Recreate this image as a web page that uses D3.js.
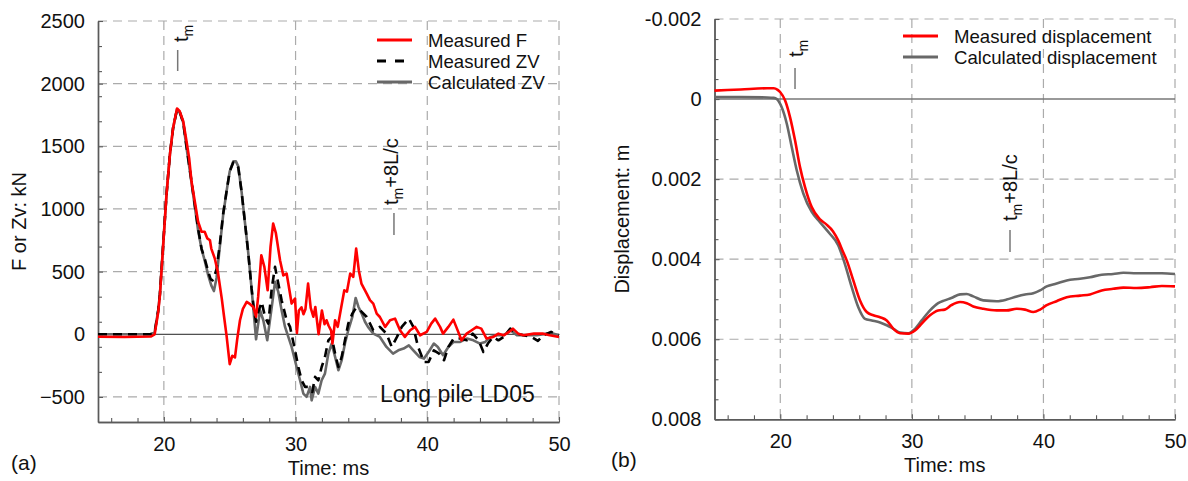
<!DOCTYPE html>
<html>
<head>
<meta charset="utf-8">
<script src="https://cdn.jsdelivr.net/npm/d3@7"></script>
<style>
  html, body { margin: 0; padding: 0; background: #fff; }
  svg { display: block; font-family: "Liberation Sans", Arial, sans-serif; }
</style>
</head>
<body>
<svg id="chart" width="1188" height="481"></svg>
<script>
// ---------------- DATA ----------------
// Panel (a): force / impedance*velocity, kN vs time, ms
const measFTime = [15, 17, 19.0, 19.3, 19.57, 19.7, 19.95, 20.2, 20.46, 20.7, 21.0, 21.2, 21.47, 21.72, 21.92, 22.1, 22.35, 22.6, 22.86, 23.1, 23.3, 23.5, 23.6, 23.87, 24.1, 24.4, 24.56, 24.76, 25.0, 25.2, 25.4, 25.57, 25.78, 26.0, 26.29, 26.55, 26.79, 27.0, 27.16, 27.4, 27.63, 27.88, 28.1, 28.3, 28.5, 28.82, 29.07, 29.32, 29.45, 29.7, 29.96, 30.1, 30.25, 30.45, 30.6, 30.75, 30.95, 31.15, 31.35, 31.5, 31.75, 32.0, 32.2, 32.35, 32.5, 32.7, 32.8, 33.0, 33.2, 33.47, 33.7, 33.9, 34.15, 34.38, 34.6, 34.8, 35.0, 35.4, 35.65, 35.9, 36.16, 36.4, 36.8, 37.17, 37.55, 37.93, 38.3, 38.7, 39.07, 39.45, 39.96, 40.3, 40.6, 40.97, 41.2, 41.6, 41.98, 42.2, 42.6, 42.99, 43.37, 43.75, 44.1, 44.5, 45.0, 45.4, 45.8, 46.2, 46.5, 46.9, 47.3, 48.1, 48.8, 49.3, 50];
const measF = [-20, -22, -18, 0, 176, 310, 711, 1112, 1433, 1647, 1802, 1780, 1700, 1540, 1406, 1219, 1059, 898, 818, 818, 765, 750, 684, 604, 497, 283, 150, -11, -238, -171, -185, -38, 112, 203, 258, 240, 218, 140, 300, 631, 538, 351, 700, 884, 810, 591, 470, 485, 405, 245, 285, 10, 190, 215, 160, 200, 405, 210, 140, 218, 0, 190, 80, 112, 70, 30, -74, 112, 59, 218, 351, 340, 485, 458, 684, 511, 405, 325, 272, 245, 165, 138, 59, 112, 125, 32, -21, 32, 59, -8, 19, 85, 125, 59, 5, 59, 117, 59, -48, 5, 32, 59, 45, -34, -21, 5, -8, 19, 45, 5, -8, 5, 5, -8, -21];

const measZVTime = [15, 19.0, 19.3, 19.57, 19.7, 19.95, 20.2, 20.46, 20.7, 21.0, 21.2, 21.47, 21.72, 22.1, 22.35, 22.6, 22.86, 23.1, 23.37, 23.55, 23.7, 23.85, 24.0, 24.25, 24.5, 24.76, 25.0, 25.27, 25.47, 25.65, 25.9, 26.15, 26.4, 26.66, 26.84, 27.0, 27.17, 27.43, 27.68, 27.93, 28.19, 28.44, 28.69, 28.94, 29.32, 29.58, 29.96, 30.21, 30.46, 30.72, 30.97, 31.27, 31.48, 31.73, 31.98, 32.23, 32.49, 32.74, 33.0, 33.25, 33.5, 33.75, 34.0, 34.31, 34.59, 34.9, 35.4, 35.9, 36.4, 36.9, 37.3, 37.7, 38.06, 38.6, 38.94, 39.3, 39.75, 40.1, 40.5, 40.9, 41.27, 41.6, 42.0, 42.5, 43.0, 43.45, 43.9, 44.26, 44.6, 45.0, 45.4, 45.8, 46.3, 46.8, 47.3, 47.9, 48.4, 48.8, 49.4, 50];
const measZV = [0, 0, 15, 190, 320, 720, 1115, 1435, 1645, 1795, 1775, 1690, 1500, 1219, 1032, 845, 684, 604, 500, 440, 430, 470, 520, 720, 960, 1140, 1300, 1370, 1370, 1330, 1139, 898, 658, 364, 200, 100, 180, 258, 138, 85, 365, 538, 405, 272, 112, 59, -128, -261, -367, -420, -420, -460, -340, -367, -261, -181, -48, -21, -154, -261, -181, -48, 85, 165, 210, 192, 138, 32, 59, 5, -101, -21, 59, 125, 59, -101, -221, -221, -128, -154, -207, -101, -34, -34, -48, 5, -48, -141, -74, -21, -48, -21, 45, 5, -8, -21, -53, -8, 19, -8];

const calcZVTime = [15, 19.0, 19.3, 19.57, 19.7, 19.95, 20.2, 20.46, 20.7, 21.0, 21.2, 21.47, 21.72, 22.1, 22.35, 22.6, 22.86, 23.1, 23.37, 23.6, 23.8, 24.0, 24.25, 24.5, 24.76, 25.0, 25.27, 25.47, 25.65, 25.9, 26.15, 26.4, 26.66, 26.84, 27.0, 27.3, 27.55, 27.85, 28.19, 28.44, 28.69, 28.94, 29.2, 29.45, 29.7, 30.08, 30.34, 30.59, 30.84, 31.1, 31.22, 31.48, 31.73, 31.98, 32.23, 32.49, 32.74, 32.94, 33.25, 33.5, 33.75, 34.0, 34.31, 34.56, 34.77, 35.02, 35.27, 35.5, 35.9, 36.4, 36.9, 37.4, 37.8, 38.2, 38.6, 38.94, 39.4, 39.75, 40.1, 40.5, 40.8, 41.2, 41.6, 42.0, 42.5, 43.0, 43.5, 44.0, 44.4, 44.8, 45.3, 45.8, 46.3, 46.8, 47.5, 48.3, 49.1, 49.6, 50];
const calcZV = [0, 0, 15, 190, 320, 720, 1115, 1435, 1645, 1795, 1775, 1690, 1490, 1210, 1020, 830, 680, 590, 470, 390, 345, 450, 700, 950, 1139, 1300, 1380, 1380, 1340, 1139, 898, 658, 364, 150, -40, 192, 112, -48, 218, 418, 338, 192, 59, -21, -101, -261, -367, -473, -500, -420, -527, -420, -473, -367, -314, -154, -74, -154, -287, -207, -74, 32, 138, 290, 220, 165, 100, 59, 5, -21, -101, -154, -128, -114, -88, -128, -181, -194, -141, -74, -101, -167, -101, -61, -61, -34, -48, -74, -61, -21, -8, -8, 32, -8, -8, -8, 5, 5, -8];

// Panel (b): displacement, m vs time, ms
const measDispTime = [15, 17, 19.0, 19.5, 19.8, 20.0, 20.36, 20.74, 21.12, 21.5, 21.88, 22.39, 23.0, 23.5, 24.0, 24.4, 24.75, 25.05, 25.55, 26.06, 26.57, 27.07, 27.58, 28.09, 28.6, 29.1, 29.73, 30.24, 30.75, 31.38, 32.0, 32.5, 33.0, 33.66, 34.17, 34.67, 35.43, 36.45, 37.2, 37.97, 38.6, 39.23, 39.74, 40.25, 41.0, 41.77, 42.78, 43.54, 44.43, 45.3, 46.07, 47.08, 48.1, 49.0, 50];
const measDisp = [-0.00021, -0.00024, -0.00027, -0.00027, -0.00023, -0.00017, 0.00003, 0.00045, 0.00103, 0.0017, 0.0022, 0.0027, 0.003, 0.00313, 0.0033, 0.00353, 0.0038, 0.00403, 0.00453, 0.00503, 0.00532, 0.0054, 0.00545, 0.00553, 0.00574, 0.00585, 0.00586, 0.00578, 0.00561, 0.0054, 0.00528, 0.00526, 0.00515, 0.00507, 0.0051, 0.00518, 0.00524, 0.00528, 0.00528, 0.00524, 0.00526, 0.00532, 0.00526, 0.00515, 0.00505, 0.00495, 0.00491, 0.00488, 0.00478, 0.00474, 0.00471, 0.00472, 0.0047, 0.00467, 0.00468];

const calcDispTime = [15, 17, 19.0, 19.5, 19.73, 20.1, 20.49, 20.87, 21.25, 21.75, 22.39, 23.0, 23.75, 24.4, 24.9, 25.43, 25.93, 26.44, 26.95, 27.58, 28.09, 28.6, 29.1, 29.73, 30.24, 30.75, 31.38, 32.0, 32.5, 33.0, 33.66, 34.17, 34.67, 35.43, 36.45, 37.2, 37.97, 38.6, 39.23, 39.74, 40.25, 41.0, 41.77, 42.78, 43.54, 44.43, 45.3, 46.07, 47.08, 48.1, 49.0, 50];
const calcDisp = [-0.00005, -0.00005, -0.00004, -0.00003, 0, 0.0002, 0.00061, 0.0012, 0.00178, 0.00236, 0.00282, 0.00307, 0.00336, 0.00365, 0.00411, 0.0047, 0.0052, 0.00549, 0.00553, 0.00558, 0.00565, 0.00574, 0.00583, 0.00585, 0.00574, 0.00553, 0.00528, 0.0051, 0.00503, 0.00497, 0.00488, 0.00487, 0.00493, 0.00503, 0.00505, 0.00501, 0.00493, 0.00488, 0.00485, 0.00478, 0.00468, 0.00461, 0.00453, 0.00449, 0.00445, 0.00439, 0.00437, 0.00434, 0.00435, 0.00435, 0.00435, 0.00437];

// Axis ticks
const timeDomain = [15, 50];
const timeMajorTicks = [20, 30, 40, 50];
const timeMinorTicks = [16, 18, 22, 24, 26, 28, 32, 34, 36, 38, 42, 44, 46, 48];
const forceDomain = [-700, 2500];
const forceMajorTicks = [-500, 0, 500, 1000, 1500, 2000, 2500];
const forceMinorTicks = [-300, -100, 100, 300, 700, 900, 1100, 1300, 1700, 1900, 2100, 2300];
const dispDomain = [-0.002, 0.008];
const dispMajorTicks = [-0.002, 0, 0.002, 0.004, 0.006, 0.008];
const dispMinorTicks = [-0.0015, -0.001, -0.0005, 0.0005, 0.001, 0.0015, 0.0025, 0.003, 0.0035, 0.0045, 0.005, 0.0055, 0.0065, 0.007, 0.0075];

// Annotation positions (ms)
const tmA = 21.05, tm8A = 37.47;
const tmB = 21.12, tm8B = 37.46;

const legendA = ["Measured F", "Measured ZV", "Calculated ZV"];
const legendB = ["Measured displacement", "Calculated displacement"];

// ---------------- DRAW ----------------
const svg = d3.select("#chart");
const RED = "#ff0000", GRAY = "#686868", BLACK = "#000000", GRID = "#ababab", AXIS = "#5a5a5a";

function zip(t, v) { return t.map((d, i) => ({ t: d, v: v[i] })); }

function panel(opt) {
  const g = svg.append("g");
  const x = d3.scaleLinear().domain(timeDomain).range(opt.xr);
  const y = d3.scaleLinear().domain(opt.yd).range(opt.yr);
  const [x0, x1] = opt.xr;
  const yTop = Math.min(...opt.yr), yBot = Math.max(...opt.yr);

  // gridlines
  g.append("g").selectAll("line").data(opt.gridY).join("line")
    .attr("x1", x0).attr("x2", x1).attr("y1", d => y(d)).attr("y2", d => y(d))
    .attr("stroke", GRID).attr("stroke-width", 1.2).attr("stroke-dasharray", "9,6");
  g.append("g").selectAll("line").data(timeMajorTicks).join("line")
    .attr("x1", d => x(d)).attr("x2", d => x(d)).attr("y1", yTop).attr("y2", yBot)
    .attr("stroke", GRID).attr("stroke-width", 1.2).attr("stroke-dasharray", "9,6");

  // zero line
  g.append("line").attr("x1", x0).attr("x2", x1).attr("y1", y(0)).attr("y2", y(0))
    .attr("stroke", opt.zeroColor).attr("stroke-width", opt.zeroWidth);

  // axes
  const xAxis = d3.axisBottom(x).tickValues(timeMajorTicks).tickSizeInner(-5).tickSizeOuter(0).tickPadding(15);
  const xMinor = d3.axisBottom(x).tickValues(timeMinorTicks).tickSizeInner(-4).tickSizeOuter(0).tickFormat("");
  const yAxis = d3.axisLeft(y).tickValues(opt.yTicks).tickSizeInner(-5).tickSizeOuter(0).tickPadding(13).tickFormat(opt.fmt);
  const yMinor = d3.axisLeft(y).tickValues(opt.yMinor).tickSizeInner(-4).tickSizeOuter(0).tickFormat("");

  const gx = g.append("g").attr("transform", `translate(0,${yBot})`).call(xAxis);
  const gxm = g.append("g").attr("transform", `translate(0,${yBot})`).call(xMinor);
  const gy = g.append("g").attr("transform", `translate(${x0},0)`).call(yAxis);
  const gym = g.append("g").attr("transform", `translate(${x0},0)`).call(yMinor);
  [gx, gxm, gy, gym].forEach(a => {
    a.select(".domain").attr("stroke", AXIS).attr("stroke-width", 1.4);
    a.selectAll(".tick line").attr("stroke", AXIS).attr("stroke-width", 1.1);
    a.selectAll(".tick text").attr("fill", "#111").style("font-size", "20px")
      .style("font-family", '"Liberation Sans", Arial, sans-serif');
  });

  // series
  opt.series.forEach(s => {
    const line = d3.line().x(d => x(d.t)).y(d => y(d.v)).curve(s.curve || d3.curveLinear);
    g.append("path").datum(zip(s.t, s.v)).attr("d", line)
      .attr("fill", "none").attr("stroke", s.color).attr("stroke-width", s.w)
      .attr("stroke-dasharray", s.dash || null).attr("stroke-linejoin", "round");
  });

  // axis titles
  g.append("text").attr("x", (x0 + x1) / 2).attr("y", yBot + 53).attr("text-anchor", "middle")
    .style("font-size", "20px").attr("fill", "#111").text("Time: ms");
  g.append("text").attr("transform", `translate(${opt.yTitleX},${(yTop + yBot) / 2}) rotate(-90)`)
    .attr("text-anchor", "middle").style("font-size", "20px").attr("fill", "#111").text(opt.yTitle);
  g.append("text").attr("x", opt.tagX).attr("y", yBot + 48).style("font-size", "21px").attr("fill", "#111").text(opt.tag);

  // markers
  opt.markers.forEach(m => {
    g.append("line").attr("x1", x(m.t)).attr("x2", x(m.t)).attr("y1", m.y1).attr("y2", m.y2)
      .attr("stroke", "#777").attr("stroke-width", 1.5);
    const tx = g.append("text").attr("transform", `translate(${x(m.t) + m.dx},${m.ty}) rotate(-90)`)
      .style("font-size", "20px").attr("fill", "#111");
    tx.append("tspan").text("t");
    tx.append("tspan").attr("dy", 5).style("font-size", "14px").text("m");
    if (m.extra) tx.append("tspan").attr("dy", -5).text(m.extra);
  });

  // legend
  const lg = g.append("g");
  opt.legend.forEach((l, i) => {
    const yy = opt.legY + i * opt.legDy;
    lg.append("line").attr("x1", opt.legX).attr("x2", opt.legX + 35).attr("y1", yy).attr("y2", yy)
      .attr("stroke", l.color).attr("stroke-width", 2.8).attr("stroke-dasharray", l.dash || null);
    lg.append("text").attr("x", opt.legX + 51).attr("y", yy + 7).style("font-size", "18.6px")
      .attr("fill", "#111").text(l.name);
  });
  return { g, x, y };
}

const A = panel({
  xr: [98, 559], yd: forceDomain, yr: [422, 21],
  gridY: forceMajorTicks.filter(d => d !== 0), yTicks: forceMajorTicks, yMinor: forceMinorTicks,
  fmt: d3.format("d"), zeroColor: "#222", zeroWidth: 1,
  yTitle: "F or Zv: kN", yTitleX: 26, tag: "(a)", tagX: 11,
  series: [
    { t: calcZVTime, v: calcZV, color: GRAY, w: 2.6 },
    { t: measZVTime, v: measZV, color: BLACK, w: 2.6, dash: "9,6" },
    { t: measFTime, v: measF, color: RED, w: 2.6 }
  ],
  markers: [
    { t: tmA, y1: 50, y2: 71, dx: 10, ty: 42 },
    { t: tm8A, y1: 213, y2: 235, dx: 4, ty: 205, extra: "+8L/c" }
  ],
  legend: [
    { name: legendA[0], color: RED },
    { name: legendA[1], color: BLACK, dash: "9,9" },
    { name: legendA[2], color: GRAY }
  ],
  legX: 377, legY: 40, legDy: 21
});
A.g.append("text").attr("x", 380).attr("y", 402).style("font-size", "23px").attr("fill", "#111").text("Long pile LD05");

const B = panel({
  xr: [714.5, 1175], yd: dispDomain, yr: [19, 419.3],
  gridY: dispMajorTicks.filter(d => d !== 0 && d !== 0.008), yTicks: dispMajorTicks, yMinor: dispMinorTicks,
  fmt: d => d === 0 ? "0" : d3.format(".3f")(d).replace("−", "-"), zeroColor: "#777", zeroWidth: 1.5,
  yTitle: "Displacement: m", yTitleX: 629, tag: "(b)", tagX: 611,
  series: [
    { t: calcDispTime, v: calcDisp, color: GRAY, w: 2.6, curve: d3.curveMonotoneX },
    { t: measDispTime, v: measDisp, color: RED, w: 2.6, curve: d3.curveMonotoneX }
  ],
  markers: [
    { t: tmB, y1: 68, y2: 89, dx: 8, ty: 57 },
    { t: tm8B, y1: 230, y2: 252, dx: 7, ty: 221, extra: "+8L/c" }
  ],
  legend: [
    { name: legendB[0], color: RED },
    { name: legendB[1], color: GRAY }
  ],
  legX: 903, legY: 36, legDy: 21
});
</script>
</body>
</html>
